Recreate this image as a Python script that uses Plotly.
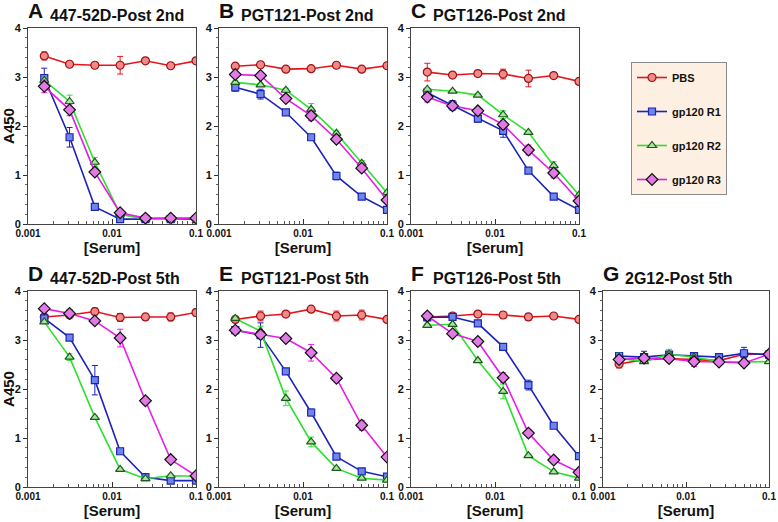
import plotly.graph_objects as go

# serum dilution (x) shared by every panel
serum = [0.0015625, 0.003125, 0.00625, 0.0125, 0.025, 0.05, 0.1]

panels = ["A", "B", "C", "D", "E", "F", "G"]
titles = ["447-52D-Post 2nd", "PGT121-Post 2nd", "PGT126-Post 2nd",
          "447-52D-Post 5th", "PGT121-Post 5th", "PGT126-Post 5th", "2G12-Post 5th"]
series_names = ["PBS", "gp120 R1", "gp120 R2", "gp120 R3"]

# A450 readings, one list per panel / group, with error bars
pbs_A = [3.43, 3.26, 3.24, 3.24, 3.33, 3.23, 3.33]
pbs_A_err = [0.08, 0.04, 0.05, 0.18, 0.03, 0.03, 0.03]
r1_A = [2.98, 1.77, 0.35, 0.10, 0.10, 0.10, 0.10]
r1_A_err = [0.2, 0.2, 0.03, 0.02, 0.02, 0.02, 0.02]
r2_A = [2.93, 2.50, 1.26, 0.20, 0.10, 0.10, 0.12]
r2_A_err = [0.05, 0.13, 0.1, 0.03, 0.02, 0.02, 0.02]
r3_A = [2.81, 2.33, 1.06, 0.23, 0.12, 0.12, 0.12]
r3_A_err = [0.13, 0.12, 0.04, 0.03, 0.02, 0.02, 0.02]

pbs_B = [3.22, 3.25, 3.16, 3.17, 3.24, 3.16, 3.23]
pbs_B_err = [0.03, 0.03, 0.03, 0.03, 0.03, 0.03, 0.03]
r1_B = [2.79, 2.65, 2.28, 1.77, 0.98, 0.56, 0.29]
r1_B_err = [0.08, 0.1, 0.03, 0.03, 0.08, 0.03, 0.03]
r2_B = [2.89, 2.84, 2.73, 2.34, 1.85, 1.24, 0.64]
r2_B_err = [0.03, 0.03, 0.04, 0.12, 0.05, 0.05, 0.03]
r3_B = [3.05, 3.03, 2.56, 2.21, 1.73, 1.14, 0.49]
r3_B_err = [0.05, 0.05, 0.05, 0.1, 0.05, 0.05, 0.03]

pbs_C = [3.10, 3.04, 3.07, 3.06, 2.97, 3.03, 2.91]
pbs_C_err = [0.18, 0.03, 0.06, 0.1, 0.17, 0.03, 0.03]
r1_C = [2.68, 2.42, 2.15, 1.90, 1.09, 0.56, 0.29]
r1_C_err = [0.04, 0.1, 0.07, 0.13, 0.03, 0.03, 0.03]
r2_C = [2.75, 2.71, 2.63, 2.23, 1.87, 1.19, 0.59]
r2_C_err = [0.03, 0.03, 0.03, 0.08, 0.03, 0.08, 0.03]
r3_C = [2.59, 2.41, 2.31, 2.03, 1.51, 1.04, 0.47]
r3_C_err = [0.1, 0.05, 0.05, 0.07, 0.1, 0.1, 0.03]

pbs_D = [3.47, 3.51, 3.58, 3.46, 3.47, 3.47, 3.56]
pbs_D_err = [0.04, 0.04, 0.07, 0.08, 0.06, 0.08, 0.07]
r1_D = [3.44, 3.05, 2.18, 0.73, 0.20, 0.13, 0.13]
r1_D_err = [0.04, 0.03, 0.3, 0.04, 0.03, 0.02, 0.02]
r2_D = [3.37, 2.65, 1.42, 0.36, 0.17, 0.23, 0.22]
r2_D_err = [0.03, 0.07, 0.03, 0.03, 0.03, 0.03, 0.03]
r3_D = [3.64, 3.54, 3.39, 3.04, 1.76, 0.56, 0.23]
r3_D_err = [0.04, 0.08, 0.05, 0.18, 0.07, 0.03, 0.03]

pbs_E = [3.42, 3.49, 3.53, 3.63, 3.49, 3.51, 3.42]
pbs_E_err = [0.06, 0.1, 0.03, 0.03, 0.1, 0.1, 0.03]
r1_E = [3.20, 3.10, 2.36, 1.52, 0.62, 0.32, 0.21]
r1_E_err = [0.04, 0.25, 0.04, 0.07, 0.03, 0.03, 0.03]
r2_E = [3.44, 3.18, 1.81, 0.92, 0.38, 0.18, 0.14]
r2_E_err = [0.05, 0.1, 0.15, 0.1, 0.03, 0.03, 0.03]
r3_E = [3.20, 3.11, 3.03, 2.74, 2.22, 1.26, 0.61]
r3_E_err = [0.04, 0.04, 0.04, 0.17, 0.04, 0.1, 0.03]

pbs_F = [3.47, 3.49, 3.53, 3.51, 3.47, 3.49, 3.42]
pbs_F_err = [0.03, 0.03, 0.03, 0.07, 0.07, 0.03, 0.03]
r1_F = [3.46, 3.47, 3.34, 2.86, 2.08, 1.25, 0.63]
r1_F_err = [0.06, 0.03, 0.03, 0.03, 0.1, 0.03, 0.03]
r2_F = [3.30, 3.32, 2.58, 1.95, 0.64, 0.31, 0.18]
r2_F_err = [0.03, 0.03, 0.03, 0.15, 0.03, 0.03, 0.03]
r3_F = [3.49, 3.13, 2.97, 2.23, 1.10, 0.55, 0.30]
r3_F_err = [0.04, 0.04, 0.04, 0.1, 0.04, 0.03, 0.03]

pbs_G = [2.51, 2.60, 2.62, 2.60, 2.58, 2.71, 2.71]
pbs_G_err = [0.08, 0.03, 0.03, 0.03, 0.03, 0.03, 0.03]
r1_G = [2.67, 2.65, 2.70, 2.67, 2.65, 2.73, 2.70]
r1_G_err = [0.05, 0.12, 0.04, 0.04, 0.05, 0.12, 0.04]
r2_G = [2.63, 2.56, 2.71, 2.65, 2.56, 2.55, 2.56]
r2_G_err = [0.1, 0.04, 0.1, 0.04, 0.05, 0.03, 0.03]
r3_G = [2.60, 2.63, 2.62, 2.56, 2.55, 2.53, 2.71]
r3_G_err = [0.04, 0.04, 0.04, 0.1, 0.04, 0.03, 0.03]

data = {
    "A": [(pbs_A, pbs_A_err), (r1_A, r1_A_err), (r2_A, r2_A_err), (r3_A, r3_A_err)],
    "B": [(pbs_B, pbs_B_err), (r1_B, r1_B_err), (r2_B, r2_B_err), (r3_B, r3_B_err)],
    "C": [(pbs_C, pbs_C_err), (r1_C, r1_C_err), (r2_C, r2_C_err), (r3_C, r3_C_err)],
    "D": [(pbs_D, pbs_D_err), (r1_D, r1_D_err), (r2_D, r2_D_err), (r3_D, r3_D_err)],
    "E": [(pbs_E, pbs_E_err), (r1_E, r1_E_err), (r2_E, r2_E_err), (r3_E, r3_E_err)],
    "F": [(pbs_F, pbs_F_err), (r1_F, r1_F_err), (r2_F, r2_F_err), (r3_F, r3_F_err)],
    "G": [(pbs_G, pbs_G_err), (r1_G, r1_G_err), (r2_G, r2_G_err), (r3_G, r3_G_err)],
}

W, H = 778, 522
# panel boxes in pixels: left, right, top, bottom
boxes = {
    "A": (28, 196, 28, 224), "B": (219, 387, 28, 224), "C": (411, 579, 28, 224),
    "D": (28, 196, 291, 487), "E": (219, 387, 291, 487), "F": (411, 579, 291, 487),
    "G": (603, 769, 291, 487),
}

line_colors = ["#e8141c", "#1c24b8", "#2ee02e", "#e81ce8"]
fill_colors = ["#f08a8a", "#6f86e8", "#a8e6a0", "#e27ae6"]
edge_colors = ["#a01010", "#1c24b8", "#1d5a1d", "#111111"]
symbols = ["circle", "square", "triangle-up", "diamond"]
sizes = [8, 7, 8, 9]

FONT = "Liberation Sans, Arial, sans-serif"

fig = go.Figure()
layout = {}
annotations = []

for i, p in enumerate(panels):
    n = "" if i == 0 else str(i + 1)
    l, r, t, b = boxes[p]
    for k, (vals, errs) in enumerate(data[p]):
        fig.add_trace(go.Scatter(
            x=serum, y=vals,
            mode="lines+markers",
            name=series_names[k],
            legendgroup=series_names[k],
            showlegend=(i == 0),
            line=dict(color=line_colors[k], width=1.6),
            marker=dict(symbol=symbols[k], size=sizes[k], color=fill_colors[k],
                        line=dict(color=edge_colors[k], width=1.2)),
            error_y=dict(type="data", array=errs, visible=True,
                         color=line_colors[k], thickness=1, width=3),
            xaxis="x" + n, yaxis="y" + n,
        ))

    layout["xaxis" + n] = dict(
        type="log", range=[-3, -1], domain=[l / W, r / W], anchor="y" + n,
        automargin=False,
        tickvals=[0.001, 0.01, 0.1], ticktext=["0.001", "0.01", "0.1"],
        ticks="inside", ticklen=5, tickcolor="#333",
        minor=dict(ticks="inside", ticklen=3, tickcolor="#555",
                   tickvals=[m * d for d in (0.001, 0.01) for m in range(2, 10)]),
        showline=True, linecolor="#444", linewidth=1, mirror=True,
        showgrid=False, zeroline=False,
        tickfont=dict(family=FONT, size=10, color="#111", weight="bold"),
        title=dict(text="[Serum]", standoff=4,
                   font=dict(family=FONT, size=15, color="#111", weight="bold")),
    )
    layout["yaxis" + n] = dict(
        range=[0, 4], domain=[1 - b / H, 1 - t / H], anchor="x" + n,
        automargin=False,
        tickvals=[0, 1, 2, 3, 4], ticks="outside", ticklen=4, tickcolor="#333",
        minor=dict(ticks="outside", ticklen=2, tickcolor="#666", dtick=0.2),
        showline=True, linecolor="#444", linewidth=1, mirror=True,
        showgrid=False, zeroline=False,
        tickfont=dict(family=FONT, size=11, color="#111", weight="bold"),
    )
    if p in ("A", "D"):
        layout["yaxis" + n]["title"] = dict(
            text="A450", standoff=4,
            font=dict(family=FONT, size=15, color="#111", weight="bold"))

    annotations.append(dict(
        x=(l - 2) / W, y=1 - (t - 18) / H, xref="paper", yref="paper",
        text=p, showarrow=False, xanchor="left", yanchor="middle",
        font=dict(family=FONT, size=21, color="#111", weight="bold")))
    annotations.append(dict(
        x=(l + 20) / W, y=1 - (t - 13) / H, xref="paper", yref="paper",
        text=titles[i], showarrow=False, xanchor="left", yanchor="middle",
        font=dict(family=FONT, size=16, color="#111", weight="bold")))

fig.update_layout(
    width=W, height=H,
    margin=dict(l=0, r=0, t=0, b=0),
    paper_bgcolor="white", plot_bgcolor="white",
    annotations=annotations,
    showlegend=True,
    legend=dict(
        x=631 / W, y=1 - 62 / H, xanchor="left", yanchor="top",
        bgcolor="#fdf0e3", bordercolor="#8a8a8a", borderwidth=1,
        tracegroupgap=15, itemwidth=30,
        font=dict(family=FONT, size=11, color="#111", weight="bold"),
    ),
    **layout,
)

# the page's default body margin would push the figure 8px off the window
fig.write_html("out.html", config={"displayModeBar": False},
               post_script="document.body.style.margin = '0';")
